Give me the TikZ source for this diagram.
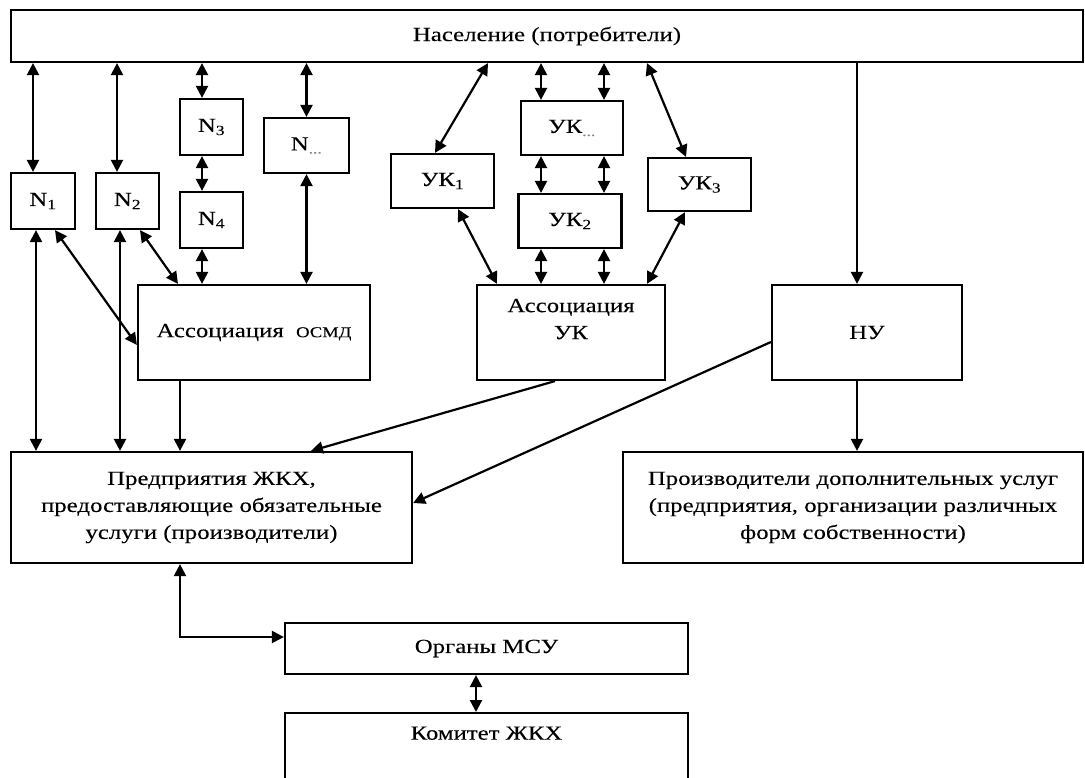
\documentclass[tikz,border=0pt]{standalone}
\usepackage{fontspec}
\setmainfont{Liberation Serif}[FakeStretch=1.24,FakeBold=0.15]
\usetikzlibrary{arrows.meta}

\tikzset{
  box/.style={draw, line width=2.2pt, inner sep=0pt, align=center,
    font=\fontsize{20}{27}\selectfont},
  dbl/.style={{Triangle[length=12pt,width=12pt]}-{Triangle[length=12pt,width=12pt]}, line width=2.2pt},
  one/.style={-{Triangle[length=12pt,width=12pt]}, line width=2.2pt},
}

\begin{document}
\begin{tikzpicture}[x=1pt,y=-1pt]
  \useasboundingbox (0,0) rectangle (1085,778);

  \node[box, minimum width=1072pt, minimum height=52pt] (pop) at (547,36) {Население (потребители)};

  \node[box, minimum width=64pt, minimum height=56pt] (N1) at (43,201) {N\textsubscript{1}};
  \node[box, minimum width=63pt, minimum height=56pt] (N2) at (127.5,201) {N\textsubscript{2}};
  \node[box, minimum width=63pt, minimum height=56pt] (N3) at (211.5,127) {N\textsubscript{3}};
  \node[box, minimum width=63pt, minimum height=56pt] (N4) at (211.5,220) {N\textsubscript{4}};
  \node[box, minimum width=85pt, minimum height=55pt] (Nd) at (306.5,145.5) {N\textsubscript{\color{gray}...}};

  \node[box, minimum width=103pt, minimum height=54pt] (UK1) at (442.5,181) {УК\textsubscript{1}};
  \node[box, minimum width=102pt, minimum height=54pt] (UKd) at (572,128) {УК\textsubscript{\color{gray}...}};
  \node[box, minimum width=103pt, minimum height=54pt] (UK2) at (570,221) {УК\textsubscript{2}};
  \node[box, minimum width=103pt, minimum height=53pt] (UK3) at (699.5,184.5) {УК\textsubscript{3}};

  \node[box, minimum width=232pt, minimum height=95pt] (aosmd) at (254,332.5)
    {Ассоциация\ \ {\fontsize{15}{18}\selectfont ОСМД}};
  \node[box, minimum width=188pt, minimum height=95pt] (auk) at (571,332.5) {Ассоциация\\УК\\\mbox{}};
  \node[box, minimum width=190pt, minimum height=95pt] (nu) at (867,332.5) {НУ};

  \node[box, minimum width=401pt, minimum height=111pt] (ent) at (211.5,507.5)
    {Предприятия ЖКХ,\\предоставляющие обязательные\\услуги (производители)};
  \node[box, minimum width=460pt, minimum height=111pt] (prod) at (853,507.5)
    {Производители дополнительных услуг\\(предприятия, организации различных\\форм собственности)};

  \node[box, minimum width=403pt, minimum height=51pt] (msu) at (486.5,648.5) {Органы МСУ};
  \node[box, minimum width=403pt, minimum height=110pt, anchor=north,
    label={[font=\fontsize{20}{27}\selectfont, anchor=north, yshift=-11pt]90:Комитет ЖКХ}] (kom) at (486.5,712) {};

  \draw[dbl] ([xshift=-10pt]N1.north |- pop.south) -- ([xshift=-10pt]N1.north);
  \draw[dbl] ([xshift=-10.5pt]N2.north |- pop.south) -- ([xshift=-10.5pt]N2.north);
  \draw[dbl] ([xshift=-9.5pt]N3.north |- pop.south) -- ([xshift=-9.5pt]N3.north);
  \draw[dbl] ([xshift=-9.5pt]N3.south) -- ([xshift=-9.5pt]N4.north);
  \draw[dbl] ([xshift=-9.5pt]N4.south) -- ([xshift=-9.5pt]N4.south |- aosmd.north);
  \draw[dbl] (Nd.north |- pop.south) -- (Nd.north);
  \draw[dbl] (Nd.south) -- (Nd.south |- aosmd.north);

  \draw[dbl] ([xshift=-7pt]N1.south) -- ([xshift=-7pt]N1.south |- ent.north);
  \draw[dbl] ([xshift=-7.5pt]N2.south) -- ([xshift=-7.5pt]N2.south |- ent.north);
  \draw[dbl] ([xshift=12pt]N1.south) -- ([yshift=-12.5pt]aosmd.west);
  \draw[dbl] ([xshift=12.5pt]N2.south) -- ([xshift=-76pt]aosmd.north);
  \draw[one] ([xshift=-74pt]aosmd.south) -- ([xshift=-74pt]aosmd.south |- ent.north);

  \draw[dbl] ([xshift=45.5pt]UK1.north |- pop.south) -- ([xshift=-7.5pt]UK1.north);
  \draw[dbl] ([xshift=-52.5pt]UK3.north |- pop.south) -- ([xshift=-13.5pt]UK3.north);
  \foreach \dx in {-31,32} {
    \draw[dbl] ([xshift=\dx pt]UKd.north |- pop.south) -- ([xshift=\dx pt]UKd.north);
    \draw[dbl] ([xshift=\dx pt]UKd.south) -- ([xshift=\dx pt]UKd.south |- UK2.north);
    \draw[dbl] ([xshift=\dx pt]UKd.south |- UK2.south) -- ([xshift=\dx pt]UKd.south |- auk.north);
  }
  \draw[dbl] ([xshift=15.5pt]UK1.south) -- ([xshift=-74pt]auk.north);
  \draw[dbl] ([xshift=-14.5pt]UK3.south) -- ([xshift=76pt]auk.north);

  \draw[one] ([xshift=-10pt]nu.north |- pop.south) -- ([xshift=-10pt]nu.north);
  \draw[one] ([xshift=-10pt]nu.south) -- ([xshift=-10pt]nu.south |- prod.north);
  \draw[one] ([xshift=-16pt]auk.south) -- ([xshift=99.5pt]ent.north);
  \draw[one] ([yshift=-9.5pt]nu.west) -- ([yshift=4.5pt]ent.east);

  \draw[dbl] ([xshift=-31.5pt]ent.south) |- ([yshift=11.5pt]msu.west);
  \draw[dbl] ([xshift=-10.5pt]msu.south) -- ([xshift=-10.5pt]msu.south |- kom.north);
\end{tikzpicture}
\end{document}
